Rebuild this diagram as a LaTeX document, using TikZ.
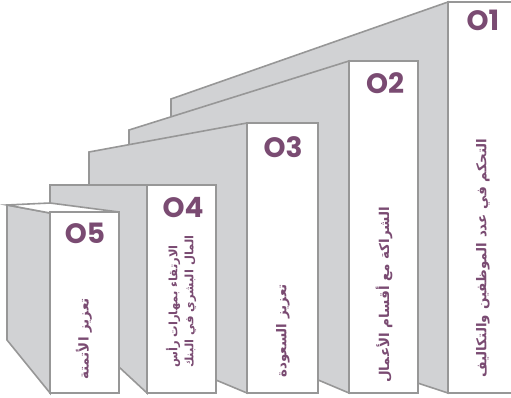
\documentclass[tikz,border=0pt]{standalone}
\usepackage{fontspec}
\newfontfamily\numfont{Poppins}
\newfontfamily\arabicfont[Script=Arabic]{DejaVu Sans}
\TeXXeTstate=1
\usepackage{xcolor}
\definecolor{plum}{HTML}{7A4B72}
\definecolor{sidegray}{HTML}{D1D2D4}
\definecolor{edge}{HTML}{979797}
\usepackage{tikz}
\tikzset{
  side/.style={draw=edge,fill=sidegray,line width=1.6pt},
  front/.style={draw=edge,fill=white,line width=1.6pt},
  num/.style={font=\numfont\bfseries\fontsize{28}{30}\selectfont,text=plum,inner sep=0pt},
  goal/.style={font=\arabicfont\bfseries\fontsize{13.5}{16}\selectfont,text=plum,rotate=90,anchor=west,inner sep=0pt},
}

\begin{document}
\begin{tikzpicture}[x=1pt,y=-1pt]
\clip (0,0) rectangle (511,398);
% O1
\draw[side] (448,2) -- (171,99) -- (171,302) -- (448,393) -- cycle;
\draw[front] (448,2) rectangle (530,393);
% O2
\draw[side] (349,61) -- (129,130) -- (129,300) -- (349,393) -- cycle;
\draw[front] (349,61) rectangle (418,393);
% O3
\draw[side] (247,123) -- (89,152) -- (89,327) -- (247,393) -- cycle;
\draw[front] (247,123) rectangle (318,393);
% O4
\draw[side] (147,185) -- (50,185) -- (50,303) -- (147,393) -- cycle;
\draw[front] (147,185) rectangle (216,393);
% O5
\draw[side] (50,213) -- (7,205) -- (7,340) -- (50,393) -- cycle;
\draw[front] (7,205) -- (50,203) -- (119,212) -- (50,213) -- cycle;
\draw[front] (50,212) rectangle (119,393);
\node[num] (n1) at (483,20) {O1};
\node[num] (n2) at (385,83) {O2};
\node[num] (n3) at (283,147) {O3};
\node[num] (n4) at (183,208) {O4};
\node[num] (n5) at (85,233) {O5};
\node[goal] (g1) at (483,378) {\beginR التحكم في عدد الموظفين والتكاليف\endR};
\node[goal] (g2) at (384,383) {\beginR الشراكة مع أقسام الأعمال\endR};
\node[goal] (g3) at (283,378) {\beginR تعزيز السعودة\endR};
\node[goal,align=left,font=\arabicfont\bfseries\fontsize{11.5}{16}\selectfont] (g4) at (181,368) {\beginR الارتقاء بمهارات رأس\endR\\\beginR المال البشري في البنك\endR};
\node[goal] (g5) at (84,380) {\beginR تعزيز الأتمتة\endR};
\end{tikzpicture}
\end{document}
